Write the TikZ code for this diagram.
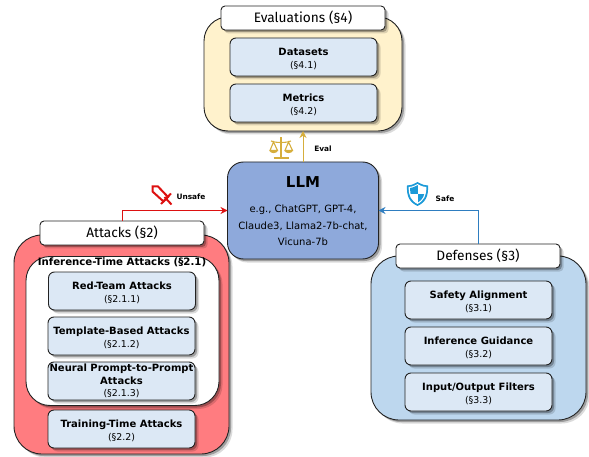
\documentclass[tikz,border=0pt]{standalone}
\usepackage{fontspec}
\setmainfont{DejaVu Sans}
\newfontfamily\titlefont{Fira Sans}
\usetikzlibrary{shadows,arrows.meta}
\definecolor{goldc}{HTML}{D6AE3C}
\definecolor{redc}{HTML}{DD1111}
\definecolor{bluec}{HTML}{2E7DC0}
\definecolor{shieldc}{HTML}{1B9AD8}
\definecolor{inkc}{HTML}{222222}
\definecolor{itemc}{HTML}{DCE8F5}
\tikzset{
 softshadow/.style={preaction={general shadow={shadow xshift=3.5pt,shadow yshift=-3.5pt,fill=black,opacity=.14}},
   preaction={general shadow={shadow xshift=2pt,shadow yshift=-2pt,fill=black,opacity=.28}}},
 boxbase/.style={draw=inkc,line width=.9pt,softshadow,align=center,outer sep=0pt,inner sep=0pt,text=black},
 panel/.style={boxbase,rounded corners=24pt},
 headbox/.style={boxbase,fill=white,rounded corners=4pt,minimum width=164pt,minimum height=24pt,font=\titlefont\fontsize{13.7}{17}\selectfont},
 itembox/.style={boxbase,fill=itemc,rounded corners=6pt,minimum width=147pt,minimum height=38pt,font=\fontsize{9.4}{13}\selectfont},
 flow/.style={line width=1pt,-{Stealth[length=7pt,width=7pt]}},
 edgelabel/.style={font=\bfseries\fontsize{7.4}{8}\selectfont,inner sep=0pt}
}
\newcommand{\bt}[1]{{\bfseries\fontsize{10}{13}\selectfont #1}}
\newcommand{\ft}[1]{\rule{0pt}{11pt}\bt{#1}}
\begin{document}
\begin{tikzpicture}[x=1pt,y=-1pt]
\useasboundingbox (0,0) rectangle (589,457);
% Evaluations
\node[panel,fill={rgb,255:red,255;green,242;blue,204},minimum width=198pt,minimum height=114pt] (evalp) at (303,74) {};
\node[headbox] (evalt) at (303,18) {Evaluations (§4)};
\node[itembox] (data) at (303.5,57) {\ft{Datasets}\\(§4.1)};
\node[itembox] (metr) at (303.5,103) {\ft{Metrics}\\(§4.2)};
% LLM
\node[boxbase,fill={rgb,255:red,142;green,169;blue,219},rounded corners=16pt,minimum width=151pt,minimum height=97pt] (llm) at (303,210.5) {};
\node[inner sep=0pt,font=\bfseries\fontsize{15}{17}\selectfont] (llmt) at (303,182) {LLM};
\node[inner sep=0pt,align=center,font=\fontsize{10}{16.5}\selectfont] (llmd) at (303,225.5) {e.g., ChatGPT, GPT-4,\\Claude3, Llama2-7b-chat,\\Vicuna-7b};
% Attacks
\node[panel,fill={rgb,255:red,255;green,124;blue,128},rounded corners=28pt,minimum width=215pt,minimum height=219pt] (atkp) at (121.5,344.5) {};
\node[headbox] (atkt) at (122,233) {Attacks (§2)};
\node[panel,fill=white,minimum width=193pt,minimum height=149pt] (inf) at (122.5,331) {};
\node[inner sep=0pt,font=\bfseries\fontsize{10.2}{11}\selectfont] (inft) at (122,262.5) {Inference-Time Attacks (§2.1)};
\node[itembox] (red) at (122,291) {\ft{Red-Team Attacks}\\(§2.1.1)};
\node[itembox] (tmpl) at (121.5,336) {\ft{Template-Based Attacks}\\(§2.1.2)};
\node[itembox,font=\fontsize{9.4}{12.3}\selectfont] (neur) at (121.5,381) {\bt{Neural Prompt-to-Prompt}\\\bt{Attacks}\\(§2.1.3)};
\node[itembox] (train) at (121.5,429) {\ft{Training-Time Attacks}\\(§2.2)};
% Defenses
\node[panel,fill={rgb,255:red,189;green,215;blue,238},rounded corners=28pt,minimum width=215pt,minimum height=164pt] (defp) at (478.5,338) {};
\node[headbox] (deft) at (478,256) {Defenses (§3)};
\node[itembox] (safe) at (478.5,300) {\ft{Safety Alignment}\\(§3.1)};
\node[itembox] (guid) at (478.5,346) {\ft{Inference Guidance}\\(§3.2)};
\node[itembox] (filt) at (478.5,392) {\ft{Input/Output Filters}\\(§3.3)};
% Connectors
\draw[flow,redc] (atkt.north) |- (llm.west);
\draw[flow,bluec] (deft.north) |- (llm.east);
\draw[flow,goldc] (llm.north) -- (evalp.south);
\node[edgelabel] (lu) at (191,196.5) {Unsafe};
\node[edgelabel] (ls) at (445,199) {Safe};
\node[edgelabel] (le) at (323,149) {Eval};
% Sword icon
\begin{scope}[redc,line width=2pt,line join=miter]
\draw (152.5,186.5) -- (158,186.5) -- (168,197) -- (163.5,201.5) -- (152.5,191.5) -- cycle;
\draw (161,204) -- (171,193.5);
\draw (164.5,197) -- (171.5,204.5);
\end{scope}
% Shield icon
\fill[shieldc] (417.5,182) .. controls (412,185) and (410,185.5) .. (407,185.5) .. controls (406.5,196) and (409,202) .. (417.5,206) .. controls (426,202) and (428.5,196) .. (428,185.5) .. controls (425,185.5) and (423,185) .. (417.5,182) -- cycle;
\fill[white] (417.5,184) .. controls (413,186.5) and (411,187) .. (408.7,187) .. controls (408.5,195.5) and (411,200.5) .. (417.5,204) .. controls (424,200.5) and (426.5,195.5) .. (426.3,187) .. controls (424,187) and (422,186.5) .. (417.5,184) -- cycle;
\begin{scope}
\clip (417.5,185.2) .. controls (413,187.5) and (411.5,188) .. (410,188) .. controls (410,195) and (412,199.5) .. (417.5,202.8) .. controls (423,199.5) and (425,195) .. (425,188) .. controls (423.5,188) and (422,187.5) .. (417.5,185.2) -- cycle;
\fill[shieldc] (405,180) rectangle (417.5,194);
\fill[shieldc] (417.5,194) rectangle (430,208);
\end{scope}
% Scales icon
\begin{scope}[goldc,line width=1.1pt]
\draw[line width=1.4pt] (281,137.5) -- (281,157.5);
\draw[line width=1.6pt] (273.5,158) -- (288.5,158);
\draw (271,141) .. controls (276,143) and (286,143) .. (291,141);
\draw (273.5,142) -- (270,150.5) -- (277.5,150.5) -- cycle;
\draw (288.5,142) -- (285,150.5) -- (292.5,150.5) -- cycle;
\fill (269.5,150.5) .. controls (270,154) and (277,154) .. (278,150.5) -- cycle;
\fill (284.5,150.5) .. controls (285,154) and (292,154) .. (293,150.5) -- cycle;
\end{scope}
\end{tikzpicture}
\end{document}
